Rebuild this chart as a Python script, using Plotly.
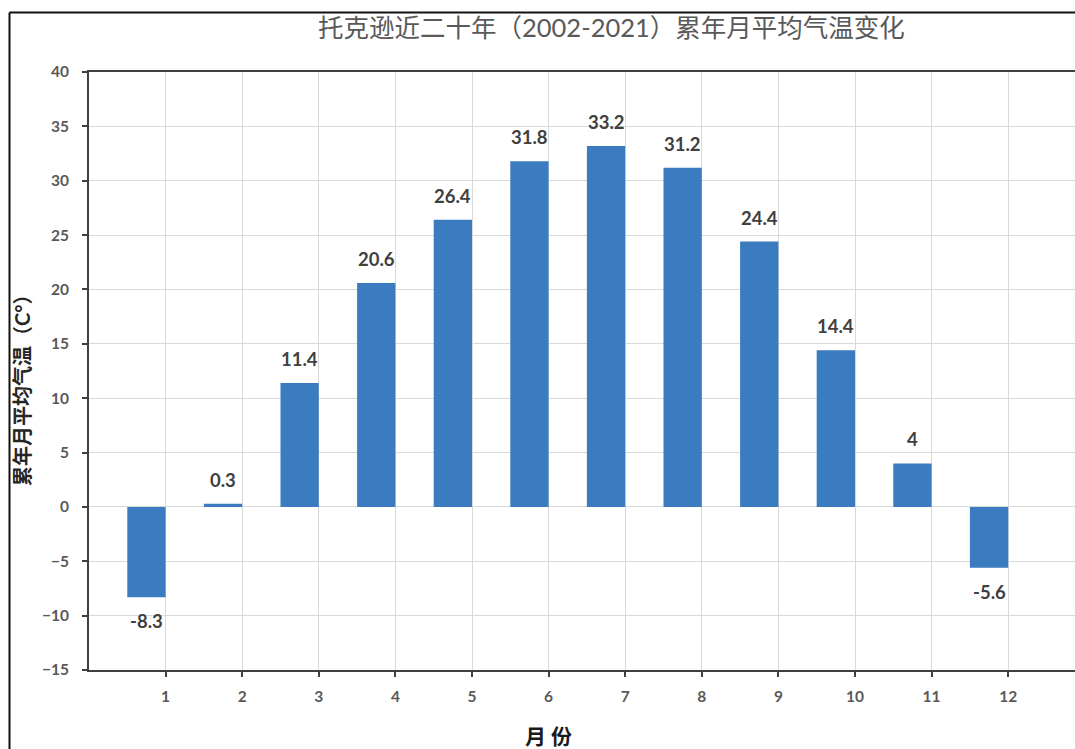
import plotly.graph_objects as go

# Monthly mean temperature, Toksun, 2002-2021
months = [1, 2, 3, 4, 5, 6, 7, 8, 9, 10, 11, 12]
temps = [-8.3, 0.3, 11.4, 20.6, 26.4, 31.8, 33.2, 31.2, 24.4, 14.4, 4, -5.6]
y_ticks = [-15, -10, -5, 0, 5, 10, 15, 20, 25, 30, 35, 40]

title_text = "托克逊近二十年（2002-2021）累年月平均气温变化"
y_title = "累年月平均气温（C°）"
x_title = "月 份"

W, H = 1075, 749
ML, MR, MT, MB = 89, 0, 72, 79
plot_w = W - ML - MR
plot_h = H - MT - MB

font_family = "Lato, Noto Sans CJK SC, sans-serif"
bar_color = "#3b7bbf"

fig = go.Figure()
fig.add_trace(go.Bar(
    x=months,
    y=temps,
    width=0.5,
    offset=-0.5,
    marker=dict(color=bar_color, line=dict(width=0)),
    hoverinfo="x+y",
))

# value labels above positive bars, below negative ones
annotations = []
for m, v in zip(months, temps):
    annotations.append(dict(
        x=m - 0.25, y=v, xref="x", yref="y",
        text=f"{v:g}", showarrow=False,
        yshift=24 if v >= 0 else -24,
        font=dict(family=font_family, size=18.5, color="#404040", weight="bold"),
    ))

def px_x(px):
    return (px - ML) / plot_w

def px_y(py):
    return (H - MB - py) / plot_h

annotations += [
    dict(text=title_text, x=px_x(611), y=px_y(27), xref="paper", yref="paper",
         showarrow=False, xanchor="center", yanchor="middle",
         font=dict(family=font_family, size=25.5, color="#595959")),
    dict(text=y_title, x=px_x(22), y=px_y(385), xref="paper", yref="paper",
         showarrow=False, textangle=-90, xanchor="center", yanchor="middle",
         font=dict(family=font_family, size=20, color="#262626", weight="bold")),
    dict(text=x_title, x=px_x(548), y=px_y(735), xref="paper", yref="paper",
         showarrow=False, xanchor="center", yanchor="middle",
         font=dict(family=font_family, size=21, color="#1a1a1a", weight="bold")),
]

# outer chart frame (left and top edges)
frame = dict(color="#111111", width=2)
shapes = [
    dict(type="line", xref="paper", yref="paper",
         x0=px_x(9.5), x1=px_x(W + 5), y0=px_y(12.5), y1=px_y(12.5), line=frame),
    dict(type="line", xref="paper", yref="paper",
         x0=px_x(9.5), x1=px_x(9.5), y0=px_y(12.5), y1=px_y(H + 10), line=frame),
]

x_max = (W - ML) / 76.6

fig.update_layout(
    width=W, height=H,
    margin=dict(l=ML, r=MR, t=MT, b=MB),
    paper_bgcolor="white",
    plot_bgcolor="white",
    showlegend=False,
    annotations=annotations,
    shapes=shapes,
    xaxis=dict(
        range=[0, x_max],
        tickmode="array", tickvals=months, ticktext=[str(m) for m in months],
        showgrid=True, gridcolor="#d9d9d9", gridwidth=1,
        zeroline=False,
        showline=True, linecolor="#404040", linewidth=2, mirror=True,
        ticks="outside", ticklen=5, tickcolor="#404040", tickwidth=1.5,
        tickfont=dict(family=font_family, size=15.5, color="#595959", weight="bold"),
        ticklabelstandoff=6,
    ),
    yaxis=dict(
        range=[-15, 40],
        tickmode="array", tickvals=y_ticks,
        showgrid=True, gridcolor="#d9d9d9", gridwidth=1,
        zeroline=False,
        showline=True, linecolor="#404040", linewidth=2,
        ticks="outside", ticklen=5, tickcolor="#404040", tickwidth=1.5,
        tickfont=dict(family=font_family, size=15.5, color="#595959", weight="bold"),
        ticklabelstandoff=10,
    ),
)

fig.write_html("out.html")
